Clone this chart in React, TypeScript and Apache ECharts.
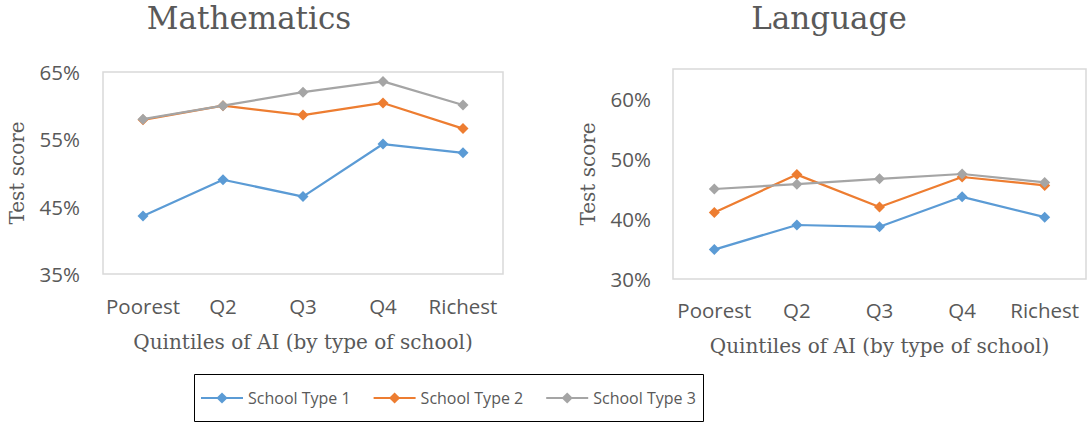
import React, { useEffect, useRef } from "react";
import * as echarts from "echarts";

const categories = ["Poorest", "Q2", "Q3", "Q4", "Richest"];
const seriesNames = ["School Type 1", "School Type 2", "School Type 3"];
const mathType1 = [43.6, 49.0, 46.5, 54.3, 53.0];
const mathType2 = [57.9, 60.0, 58.6, 60.4, 56.6];
const mathType3 = [58.0, 60.0, 62.0, 63.6, 60.1];
const langType1 = [34.9, 39.0, 38.7, 43.7, 40.3];
const langType2 = [41.1, 47.4, 42.0, 47.0, 45.6];
const langType3 = [45.0, 45.8, 46.7, 47.5, 46.1];
const mathTicks = [35, 45, 55, 65];
const langTicks = [30, 40, 50, 60];
const colors = ["#5B9BD5", "#ED7D31", "#A5A5A5"];

const TXT = "#595959";
const SANS = "Open Sans";
const SERIF = "DejaVu Serif";

export default function App() {
  const ref = useRef<HTMLDivElement>(null);
  useEffect(() => {
    document.body.style.margin = "0";
    const chart = echarts.init(ref.current!, null, { renderer: "svg" });
    const xAxisBase = (gridIndex: number, margin: number, gap: number) => ({
      type: "category" as const,
      gridIndex,
      data: categories,
      boundaryGap: true,
      axisLine: { show: false },
      axisTick: { show: false },
      axisLabel: { color: TXT, fontFamily: SANS, fontSize: 20.5, margin, interval: 0 },
      name: "Quintiles of AI (by type of school)",
      nameLocation: "middle" as const,
      nameGap: gap,
      nameTextStyle: { color: TXT, fontFamily: SERIF, fontSize: 20 },
    });
    const yAxisBase = (gridIndex: number, min: number, max: number, ticks: number[], margin: number, gap: number) => ({
      type: "value" as const,
      gridIndex,
      min,
      max,
      interval: 5,
      axisLine: { show: false },
      axisTick: { show: false },
      splitLine: { show: false },
      axisLabel: {
        color: TXT,
        fontFamily: SANS,
        fontSize: 20.5,
        margin,
        showMaxLabel: true,
        formatter: (v: number) => (ticks.indexOf(Math.round(v)) >= 0 ? Math.round(v) + "%" : ""),
      },
      name: "Test score",
      nameLocation: "middle" as const,
      nameGap: gap,
      nameTextStyle: { color: TXT, fontFamily: SERIF, fontSize: 20 },
    });
    const mk = (name: string, data: number[], i: number, axis: number) => ({
      name,
      type: "line" as const,
      xAxisIndex: axis,
      yAxisIndex: axis,
      data,
      symbol: "diamond",
      symbolSize: 11,
      lineStyle: { color: colors[i], width: 2.25 },
      itemStyle: { color: colors[i] },
      z: 2 + i,
    });
    chart.setOption({
      animation: false,
      color: colors,
      grid: [
        { left: 103, top: 72, width: 400, height: 202, show: true, borderColor: "#D9D9D9", borderWidth: 1.5, backgroundColor: "transparent" },
        { left: 673, top: 69, width: 413, height: 210, show: true, borderColor: "#D9D9D9", borderWidth: 1.5, backgroundColor: "transparent" },
      ],
      xAxis: [xAxisBase(0, 21, 58), xAxisBase(1, 20, 57)],
      yAxis: [yAxisBase(0, 35, 65, mathTicks, 23, 76), yAxisBase(1, 30, 65, langTicks, 22, 75)],
      legend: {
        left: 195,
        top: 385,
        itemWidth: 42,
        itemHeight: 14,
        itemGap: 22,
        data: seriesNames,
        textStyle: { color: TXT, fontFamily: SANS, fontSize: 16 },
      },
      graphic: [
        { type: "text", x: 249, y: 18, style: { text: "Mathematics", fill: TXT, font: `31px "${SERIF}"`, textAlign: "center", textVerticalAlign: "middle" } },
        { type: "text", x: 829, y: 18, style: { text: "Language", fill: TXT, font: `31px "${SERIF}"`, textAlign: "center", textVerticalAlign: "middle" } },
        { type: "rect", shape: { x: 194.5, y: 374.5, width: 509, height: 47 }, style: { fill: "none", stroke: "#000", lineWidth: 1 } },
      ],
      series: [
        mk(seriesNames[0], mathType1, 0, 0),
        mk(seriesNames[1], mathType2, 1, 0),
        mk(seriesNames[2], mathType3, 2, 0),
        mk(seriesNames[0], langType1, 0, 1),
        mk(seriesNames[1], langType2, 1, 1),
        mk(seriesNames[2], langType3, 2, 1),
      ],
    });
    return () => chart.dispose();
  }, []);
  return <div ref={ref} style={{ width: 1087, height: 423 }} />;
}
